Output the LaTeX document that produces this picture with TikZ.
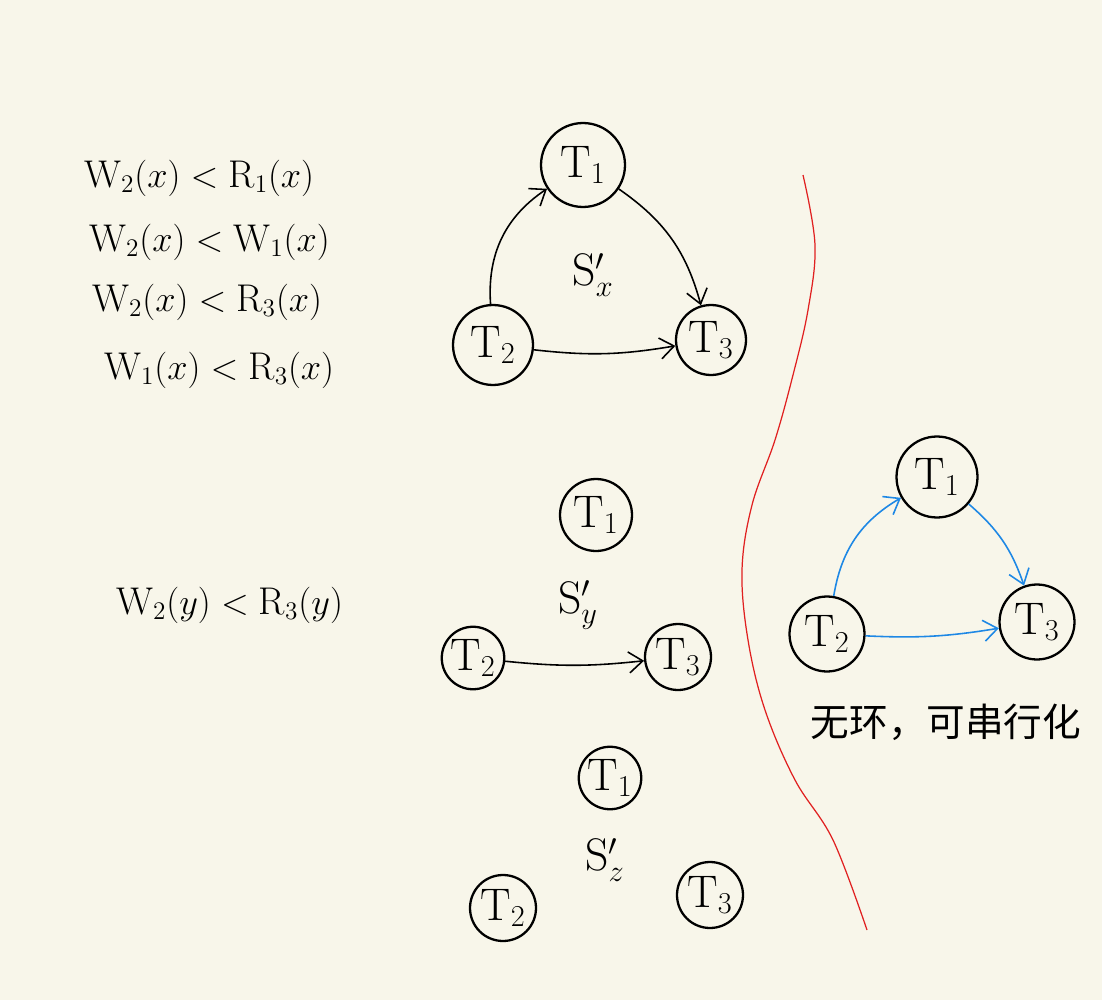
\documentclass[tikz,border=0pt]{standalone}
\usepackage{fontspec}
\usepackage{amsmath}
\usepackage{tikz}
\usetikzlibrary{arrows.meta}
\newfontfamily\cjk{Noto Sans CJK SC}
\definecolor{papercol}{RGB}{248,246,234}
\definecolor{depblue}{RGB}{30,136,229}
\definecolor{cutred}{RGB}{224,32,32}

\begin{document}
\begin{tikzpicture}[
  x=0.02cm, y=-0.02cm,
  font=\fontsize{22}{26}\selectfont,
  txn/.style={draw=black, circle, line width=1.3pt, inner sep=0pt,
              font=\fontsize{26}{30}\selectfont},
  dep/.style={-{Straight Barb[length=2.8mm,width=4.2mm]}, line width=0.9pt, black},
  depok/.style={dep, depblue},
  conflict/.style={anchor=west},
  sched/.style={font=\fontsize{26}{30}\selectfont}
]
  \useasboundingbox (0,0) rectangle (1102,1000);
  \fill[papercol] (0,0) rectangle (1102,1000);

  % conflict pairs
  \node[conflict] (cx1) at (78,178)  {$\mathrm{W}_2(x) < \mathrm{R}_1(x)$};
  \node[conflict] (cx2) at (83,242)  {$\mathrm{W}_2(x) < \mathrm{W}_1(x)$};
  \node[conflict] (cx3) at (86,302)  {$\mathrm{W}_2(x) < \mathrm{R}_3(x)$};
  \node[conflict] (cx4) at (98,370)  {$\mathrm{W}_1(x) < \mathrm{R}_3(x)$};
  \node[conflict] (cy1) at (110,605) {$\mathrm{W}_2(y) < \mathrm{R}_3(y)$};

  % precedence graph on x
  \node[txn, minimum size=1.68cm] (t1x) at (583,165) {$\mathrm{T}_1$};
  \node[txn, minimum size=1.6cm]  (t2x) at (493,345) {$\mathrm{T}_2$};
  \node[txn, minimum size=1.4cm]  (t3x) at (711,340) {$\mathrm{T}_3$};
  \node[sched] (sx) at (593,275) {$\mathrm{S}'_x$};
  \draw[dep] (t2x) to[bend left=30] (t1x);
  \draw[dep] (t1x) to[bend left=20] (t3x);
  \draw[dep] (t2x) to[bend right=8] (t3x);

  % precedence graph on y
  \node[txn, minimum size=1.44cm] (t1y) at (596,515) {$\mathrm{T}_1$};
  \node[txn, minimum size=1.25cm] (t2y) at (473,658) {$\mathrm{T}_2$};
  \node[txn, minimum size=1.32cm] (t3y) at (678,657) {$\mathrm{T}_3$};
  \node[sched] (sy) at (578,605) {$\mathrm{S}'_y$};
  \draw[dep] (t2y) to[bend right=6] (t3y);

  % precedence graph on z
  \node[txn, minimum size=1.25cm] (t1z) at (610,778) {$\mathrm{T}_1$};
  \node[txn, minimum size=1.32cm] (t2z) at (503,908) {$\mathrm{T}_2$};
  \node[txn, minimum size=1.32cm] (t3z) at (710,895) {$\mathrm{T}_3$};
  \node[sched] (sz) at (605,860) {$\mathrm{S}'_z$};

  % separator
  \draw[cutred, line width=0.7pt] plot[smooth, tension=0.6] coordinates
    {(803,175) (815,245) (808,310) (793,375) (775,440) (752,505) (742,570)
     (748,640) (765,710) (795,780) (833,840) (867,930)};

  % merged graph
  \node[txn, minimum size=1.62cm] (t1a) at (937,477) {$\mathrm{T}_1$};
  \node[txn, minimum size=1.5cm]  (t2a) at (827,634) {$\mathrm{T}_2$};
  \node[txn, minimum size=1.5cm]  (t3a) at (1037,622) {$\mathrm{T}_3$};
  \draw[depok] (t2a) to[bend left=25] (t1a);
  \draw[depok] (t1a) to[bend left=15] (t3a);
  \draw[depok] (t2a) to[bend right=6] (t3a);
  \node[font=\cjk\fontsize{22}{26}\selectfont] (res) at (946,722) {无环，可串行化};
\end{tikzpicture}
\end{document}
